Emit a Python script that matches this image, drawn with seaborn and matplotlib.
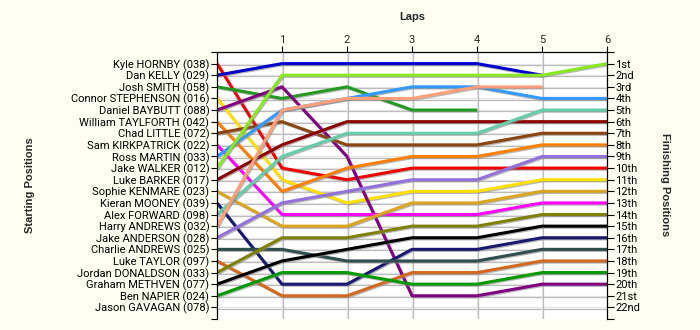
import numpy as np
import pandas as pd
import matplotlib
matplotlib.use("Agg")
import matplotlib.pyplot as plt
import matplotlib.patheffects as pe
import seaborn as sns

# Grid: starting order of the riders (top to bottom)
riders = [
    "Kyle HORNBY (038)", "Dan KELLY (029)", "Josh SMITH (058)",
    "Connor STEPHENSON (016)", "Daniel BAYBUTT (088)", "William TAYLFORTH (042)",
    "Chad LITTLE (072)", "Sam KIRKPATRICK (022)", "Ross MARTIN (033)",
    "Jake WALKER (012)", "Luke BARKER (017)", "Sophie KENMARE (023)",
    "Kieran MOONEY (039)", "Alex FORWARD (098)", "Harry ANDREWS (032)",
    "Jake ANDERSON (028)", "Charlie ANDREWS (025)", "Luke TAYLOR (097)",
    "Jordan DONALDSON (033)", "Graham METHVEN (077)", "Ben NAPIER (024)",
    "Jason GAVAGAN (078)",
]

laps = [0, 1, 2, 3, 4, 5, 6]
N = None  # rider not classified on that lap

# Position held at the end of each lap (lap 0 = grid position)
positions = {
    "Kyle HORNBY (038)":       [1, 10, 11, 10, 10, 10, 10],
    "Dan KELLY (029)":         [2, 1, 1, 1, 1, 2, N],
    "Josh SMITH (058)":        [3, 4, 3, 5, 5, N, N],
    "Connor STEPHENSON (016)": [4, 11, 13, 12, 12, 11, 11],
    "Daniel BAYBUTT (088)":    [5, 3, 9, 21, 21, 20, 20],
    "William TAYLFORTH (042)": [6, 12, 10, 9, 9, 8, 8],
    "Chad LITTLE (072)":       [7, 6, 8, 8, 8, 7, 7],
    "Sam KIRKPATRICK (022)":   [8, 14, 14, 14, 14, 13, 13],
    "Ross MARTIN (033)":       [9, 5, 4, 3, 3, 4, 4],
    "Jake WALKER (012)":       [10, 2, 2, 2, 2, 2, 1],
    "Luke BARKER (017)":       [11, 8, 6, 6, 6, 6, 6],
    "Sophie KENMARE (023)":    [12, 15, 15, 13, 13, 12, 12],
    "Kieran MOONEY (039)":     [13, 20, 20, 17, 17, 16, 16],
    "Alex FORWARD (098)":      [14, 9, 7, 7, 7, 5, 5],
    "Harry ANDREWS (032)":     [15, 5, 4, 4, 3, 3, N],
    "Jake ANDERSON (028)":     [16, 13, 12, 11, 11, 9, 9],
    "Charlie ANDREWS (025)":   [17, 17, 18, 18, 18, 17, 17],
    "Luke TAYLOR (097)":       [18, 21, 21, 19, 19, 18, 18],
    "Jordan DONALDSON (033)":  [19, 16, 16, 15, 15, 14, 14],
    "Graham METHVEN (077)":    [20, 18, 17, 16, 16, 15, 15],
    "Ben NAPIER (024)":        [21, 19, 19, 20, 20, 19, 19],
    "Jason GAVAGAN (078)":     [N, N, N, N, N, N, N],
}

colours = {
    "Kyle HORNBY (038)": "#EE0000",
    "Dan KELLY (029)": "#0000CC",
    "Josh SMITH (058)": "#229A22",
    "Connor STEPHENSON (016)": "#FFE000",
    "Daniel BAYBUTT (088)": "#800080",
    "William TAYLFORTH (042)": "#FF8000",
    "Chad LITTLE (072)": "#8B4513",
    "Sam KIRKPATRICK (022)": "#FF00FF",
    "Ross MARTIN (033)": "#3399FF",
    "Jake WALKER (012)": "#88E822",
    "Luke BARKER (017)": "#8B0000",
    "Sophie KENMARE (023)": "#DAA520",
    "Kieran MOONEY (039)": "#191970",
    "Alex FORWARD (098)": "#66CDAA",
    "Harry ANDREWS (032)": "#FFA07A",
    "Jake ANDERSON (028)": "#9370DB",
    "Charlie ANDREWS (025)": "#2F4F4F",
    "Luke TAYLOR (097)": "#D2691E",
    "Jordan DONALDSON (033)": "#808000",
    "Graham METHVEN (077)": "#000000",
    "Ben NAPIER (024)": "#009900",
    "Jason GAVAGAN (078)": "#999999",
}

finish_labels = ["1st", "2nd", "3rd"] + [f"{i}th" for i in range(4, 21)] + ["21st", "22nd"]

rows = []
for r in riders:
    for lap, p in zip(laps, positions[r]):
        if p is not None:
            rows.append({"rider": r, "lap": lap, "pos": p})
df = pd.DataFrame(rows)

sns.set_theme(style="white")
plt.rcParams["font.family"] = ["Roboto", "DejaVu Sans"]

fig = plt.figure(figsize=(7, 3.3), dpi=100, facecolor="#FEFEF2")
ax = fig.add_axes([217 / 700, 1 - 319 / 330, 390 / 700, 267 / 330])
ax.set_facecolor("white")

# light grid behind the traces
for y in range(1, 23):
    ax.axhline(y, color="#E4E4E4", lw=0.9, zorder=0)
for x in range(1, 6):
    ax.axvline(x, color="#E4E4E4", lw=0.9, zorder=0)

sns.lineplot(data=df, x="lap", y="pos", hue="rider", hue_order=[r for r in riders if r in df.rider.unique()],
             palette=colours, estimator=None, sort=False, lw=2.2, legend=False, ax=ax)
for ln in ax.lines:
    ln.set_path_effects([pe.SimpleLineShadow(offset=(0.8, -0.8), shadow_color="#888888", alpha=0.6),
                         pe.Normal()])
    ln.set_solid_capstyle("butt")

ax.set_xlim(0, 6)
ax.set_ylim(23, 0)

# laps along the top
ax.xaxis.tick_top()
ax.set_xticks(range(1, 7))
ax.set_xticklabels([str(i) for i in range(1, 7)])
ax.tick_params(axis="x", top=True, bottom=False, length=4, width=0.8, pad=1,
               labelsize=8, color="black", direction="out")
ax.set_xlabel("")
ax.set_ylabel("")

# starting grid on the left
ax.set_yticks(range(1, 23))
ax.set_yticklabels(riders)
ax.set_yticks([0, 23], minor=True)
ax.tick_params(axis="y", which="both", left=True, length=4, width=0.8, pad=1.5,
               labelsize=8, color="black", direction="out", labelcolor="black")

for side in ["left", "top"]:
    ax.spines[side].set_visible(True)
    ax.spines[side].set_color("black")
    ax.spines[side].set_linewidth(0.9)
ax.spines["bottom"].set_visible(False)
ax.spines["right"].set_visible(False)

# finishing order on the right
ax2 = ax.twinx()
ax2.set_ylim(23, 0)
ax2.set_yticks(range(1, 23))
ax2.set_yticklabels(finish_labels)
ax2.set_yticks([0, 23], minor=True)
ax2.tick_params(axis="y", which="both", right=True, length=5, width=0.8, pad=1,
                labelsize=8, color="black", direction="out", labelcolor="black")
ax2.grid(False)
for side in ["left", "top", "bottom"]:
    ax2.spines[side].set_visible(False)
ax2.spines["right"].set_visible(True)
ax2.spines["right"].set_color("black")
ax2.spines["right"].set_linewidth(0.9)

bold = dict(fontsize=8, fontweight="bold", family=["Liberation Sans", "DejaVu Sans"])
fig.text(412 / 700, 1 - 17 / 330, "Laps", ha="center", va="center", **bold)
fig.text(30 / 700, 1 - 185 / 330, "Starting Positions", ha="center", va="center",
         rotation=90, **bold)
fig.text(665 / 700, 1 - 185 / 330, "Finishing Positions", ha="center", va="center",
         rotation=270, **bold)

fig.savefig("out.png", dpi=100, facecolor=fig.get_facecolor())
